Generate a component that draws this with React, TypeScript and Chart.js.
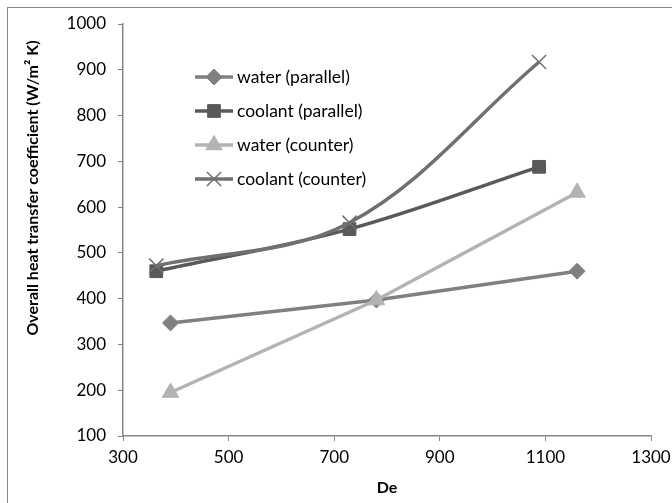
import React, { useEffect, useRef } from 'react';
import { Chart, registerables } from 'chart.js';
import { drawPoint } from 'chart.js/helpers';

Chart.register(...registerables);

const seriesNames = ['water (parallel)', 'coolant (parallel)', 'water (counter)', 'coolant (counter)'];
const waterParallelX = [390, 780, 1160];
const waterParallelY = [347, 397, 460];
const coolantParallelX = [363, 729, 1088];
const coolantParallelY = [460, 552, 688];
const waterCounterX = [390, 780, 1160];
const waterCounterY = [195, 397, 632];
const coolantCounterX = [363, 729, 1088];
const coolantCounterY = [472, 566, 917];
const xTickValues = [300, 500, 700, 900, 1100, 1300];
const yTickValues = [100, 200, 300, 400, 500, 600, 700, 800, 900, 1000];
const xTitle = 'De';
const yTitle = 'Overall heat transfer coefficient (W/m² K)';

const FONT = 'Lato, "Open Sans", sans-serif';
const AXIS_GREY = '#868686';

const toPoints = (xs: number[], ys: number[]) => xs.map((x, i) => ({ x, y: ys[i] }));

const overlayPlugin = {
  id: 'overlay',
  afterDraw(chart: any) {
    const ctx = chart.ctx as CanvasRenderingContext2D;
    ctx.save();
    ctx.font = `bold 16px ${FONT}`;
    ctx.fillStyle = '#000';
    ctx.textAlign = 'center';
    ctx.textBaseline = 'middle';
    ctx.translate(33, 188);
    ctx.rotate(-Math.PI / 2);
    ctx.fillText(yTitle, 0, 0);
    ctx.restore();

    chart.data.datasets.forEach((ds: any, i: number) => {
      const y = 77 + i * 34;
      ctx.save();
      ctx.strokeStyle = ds.borderColor;
      ctx.lineWidth = ds.borderWidth;
      ctx.lineCap = 'butt';
      ctx.beginPath();
      ctx.moveTo(195, y);
      ctx.lineTo(233, y);
      ctx.stroke();
      ctx.fillStyle = ds.pointBackgroundColor;
      ctx.strokeStyle = ds.pointBorderColor;
      ctx.lineWidth = ds.pointBorderWidth;
      drawPoint(ctx, { pointStyle: ds.pointStyle, radius: ds.pointRadius, rotation: 0, borderWidth: ds.pointBorderWidth } as any, 214, y);
      ctx.font = `17.5px ${FONT}`;
      ctx.fillStyle = '#000';
      ctx.textAlign = 'left';
      ctx.textBaseline = 'middle';
      ctx.fillText(ds.label, 237, y);
      ctx.restore();
    });
  },
};

export default function App() {
  const ref = useRef<HTMLCanvasElement>(null);
  useEffect(() => {
    if (!ref.current) return;
    const mk = (i: number, xs: number[], ys: number[], color: string, style: string, radius: number, tension: number, pbw: number) => ({
      label: seriesNames[i],
      data: toPoints(xs, ys),
      borderColor: color,
      backgroundColor: color,
      borderWidth: 3.5,
      pointStyle: style,
      pointRadius: radius,
      pointHoverRadius: radius,
      pointBackgroundColor: color,
      pointBorderColor: color,
      pointBorderWidth: pbw,
      tension,
      order: 4 - i,
      fill: false,
    });
    const chart = new Chart(ref.current, {
      type: 'line',
      data: {
        datasets: [
          mk(0, waterParallelX, waterParallelY, '#808080', 'rectRot', 8, 0, 1),
          mk(1, coolantParallelX, coolantParallelY, '#595959', 'rect', 9, 0.35, 1),
          mk(2, waterCounterX, waterCounterY, '#b3b3b3', 'triangle', 9.5, 0, 1),
          mk(3, coolantCounterX, coolantCounterY, '#707070', 'crossRot', 10, 0.35, 1.5),
        ] as any,
      },
      options: {
        responsive: false,
        animation: false,
        layout: { padding: { left: 0, top: 24, right: 21, bottom: 0 } },
        plugins: { legend: { display: false }, tooltip: { enabled: false } },
        scales: {
          x: {
            type: 'linear',
            min: 300,
            max: 1300,
            afterBuildTicks: (s: any) => { s.ticks = xTickValues.map((v) => ({ value: v })); },
            afterFit: (s: any) => { s.height = 67; s.paddingLeft = 0; s.paddingRight = 0; },
            grid: { display: true, drawOnChartArea: false, drawTicks: true, tickLength: 5, color: AXIS_GREY, lineWidth: 1 },
            border: { display: true, color: AXIS_GREY, width: 1.5 },
            ticks: { color: '#000', font: { family: FONT, size: 17 }, padding: 6, maxRotation: 0, callback: (v: any) => String(v) },
            title: { display: true, text: xTitle, color: '#000', font: { family: FONT, size: 16, weight: 'bold' }, padding: { top: 0, bottom: 6 } },
          },
          y: {
            type: 'linear',
            min: 100,
            max: 1000,
            afterBuildTicks: (s: any) => { s.ticks = yTickValues.map((v) => ({ value: v })); },
            afterFit: (s: any) => { s.width = 123; s.paddingTop = 0; s.paddingBottom = 0; },
            grid: { display: true, drawOnChartArea: false, drawTicks: true, tickLength: 5, color: AXIS_GREY, lineWidth: 1 },
            border: { display: true, color: AXIS_GREY, width: 1.5 },
            ticks: { color: '#000', font: { family: FONT, size: 17 }, padding: 12, callback: (v: any) => String(v) },
          },
        },
      } as any,
      plugins: [overlayPlugin],
    });
    return () => chart.destroy();
  }, []);

  return (
    <div style={{ position: 'fixed', left: 0, top: 0, width: 672, height: 503, overflow: 'hidden', background: '#fff' }}>
      <div style={{ position: 'absolute', left: 7, top: 7, width: 700, height: 600, border: '1.5px solid #868686' }} />
      <canvas ref={ref} width={672} height={503} style={{ position: 'absolute', left: 0, top: 0, display: 'block' }} />
    </div>
  );
}
